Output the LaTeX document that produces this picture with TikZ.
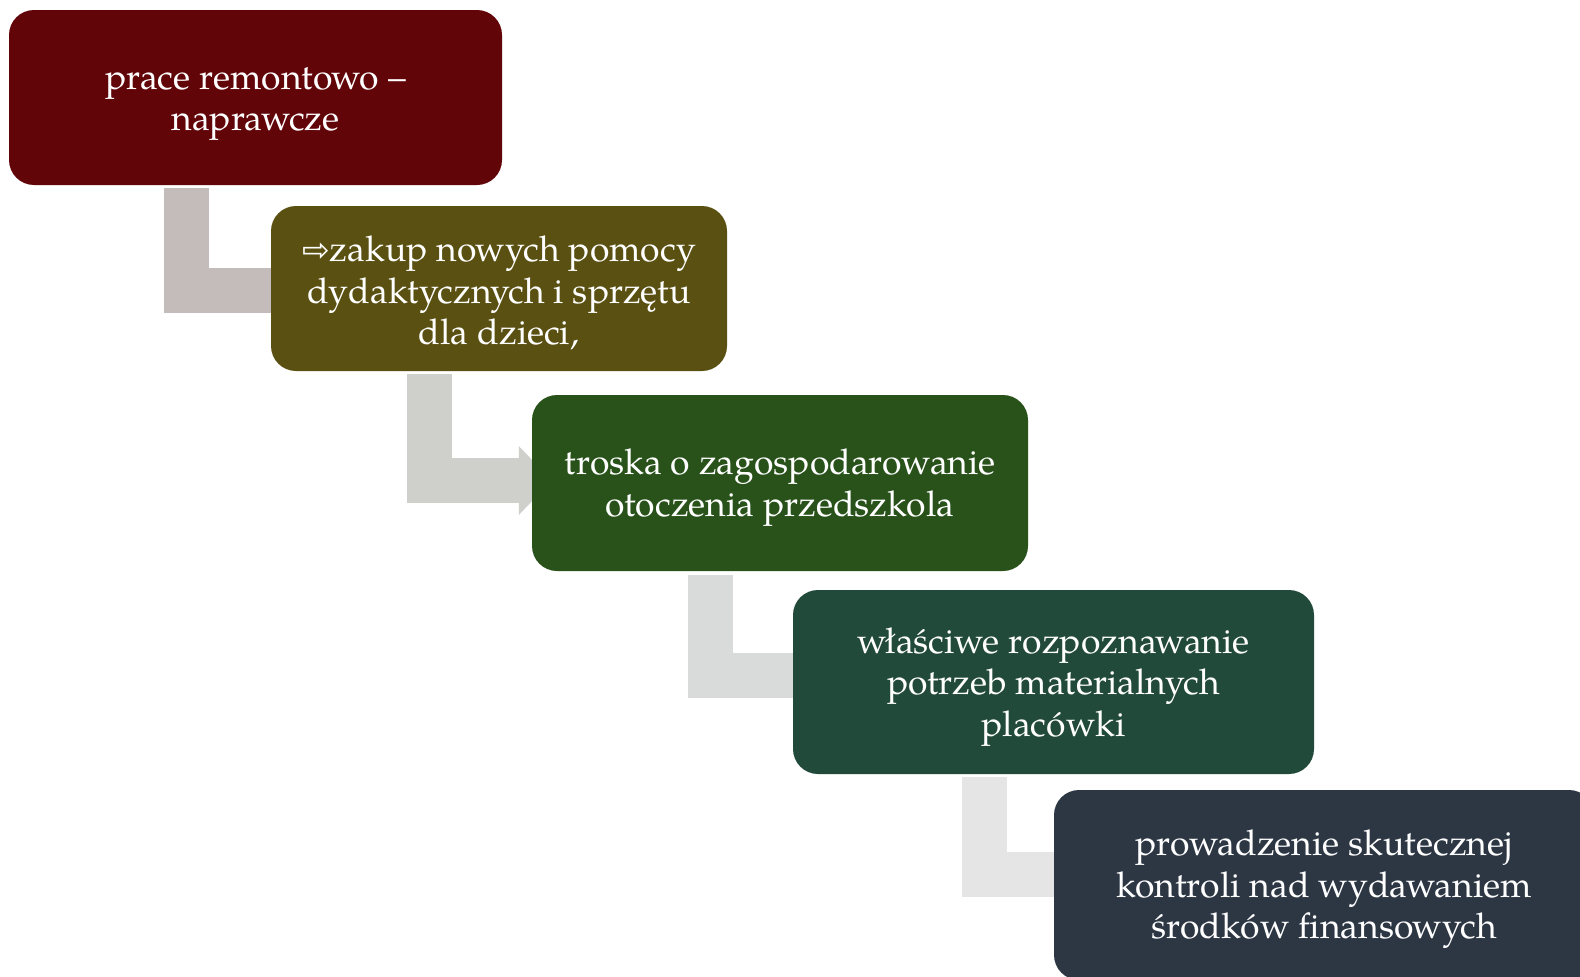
\documentclass[tikz,border=0pt]{standalone}
\usepackage{fontspec}
\setmainfont{texgyrepagella}[Extension=.otf,UprightFont=*-regular,BoldFont=*-bold]
\newfontfamily\arrowfont{DejaVu Sans}
\usetikzlibrary{arrows.meta,backgrounds}

\definecolor{remont}{RGB}{97,5,8}
\definecolor{zakup}{RGB}{90,80,18}
\definecolor{troska}{RGB}{40,82,26}
\definecolor{potrzeby}{RGB}{34,74,58}
\definecolor{kontrola}{RGB}{45,55,68}
\definecolor{conA}{RGB}{196,188,186}
\definecolor{conB}{RGB}{207,207,203}
\definecolor{conC}{RGB}{217,218,218}
\definecolor{conD}{RGB}{229,229,229}

% taller first line, so the text sits a little lower in its box
\newcommand{\lowertext}{\rule{0pt}{35pt}}

\tikzset{
  stage/.style={rounded corners=25pt, inner sep=0pt, align=center, text=white,
    font=\fontsize{35.5}{41.5}\selectfont},
  bendbar/.style={line width=45pt, line join=miter, line cap=butt}
}

\begin{document}
\begin{tikzpicture}[x=1pt,y=-1pt]
	\useasboundingbox (0,0) rectangle (1580,977);
	
	% the five stages
	\node[stage, fill=remont, minimum width=493pt, minimum height=175pt] (s1) at (255.5,97.5)
		{\lowertext prace remontowo –\\naprawcze};
	\node[stage, fill=zakup, minimum width=456pt, minimum height=165pt] (s2) at (499,288.5)
		{\lowertext{\arrowfont\fontsize{33}{41.5}\selectfont ⇨}zakup nowych pomocy\\dydaktycznych i sprzętu\\dla dzieci,};
	\node[stage, fill=troska, minimum width=496pt, minimum height=176pt] (s3) at (780,483)
		{\lowertext troska o zagospodarowanie\\otoczenia przedszkola};
	\node[stage, fill=potrzeby, minimum width=521pt, minimum height=184pt] (s4) at (1053.5,682)
		{\lowertext właściwe rozpoznawanie\\potrzeb materialnych\\placówki};
	\node[stage, fill=kontrola, minimum width=540pt, minimum height=190pt] (s5) at (1324,885)
		{\lowertext prowadzenie skutecznej\\kontroli nad wydawaniem\\środków finansowych};
	
	% bent connectors, behind the stages
	\begin{pgfonlayer}{background}
		\draw[bendbar, conA] ([xshift=177.5pt, yshift=-3pt]s1.south west) |- ([yshift=-1.5pt]s2.west);
		\draw[bendbar, conB, -{Triangle[length=33pt, width=67pt]}]
			([xshift=158.5pt, yshift=-3pt]s2.south west) |- ([xshift=20pt, yshift=2.5pt]s3.west);
		\draw[bendbar, conC] ([xshift=178.5pt, yshift=-4pt]s3.south west) |- ([yshift=6.5pt]s4.west);
		\draw[bendbar, conD] ([xshift=191.5pt, yshift=-3pt]s4.south west) |- ([yshift=10.5pt]s5.west);
	\end{pgfonlayer}
\end{tikzpicture}
\end{document}
